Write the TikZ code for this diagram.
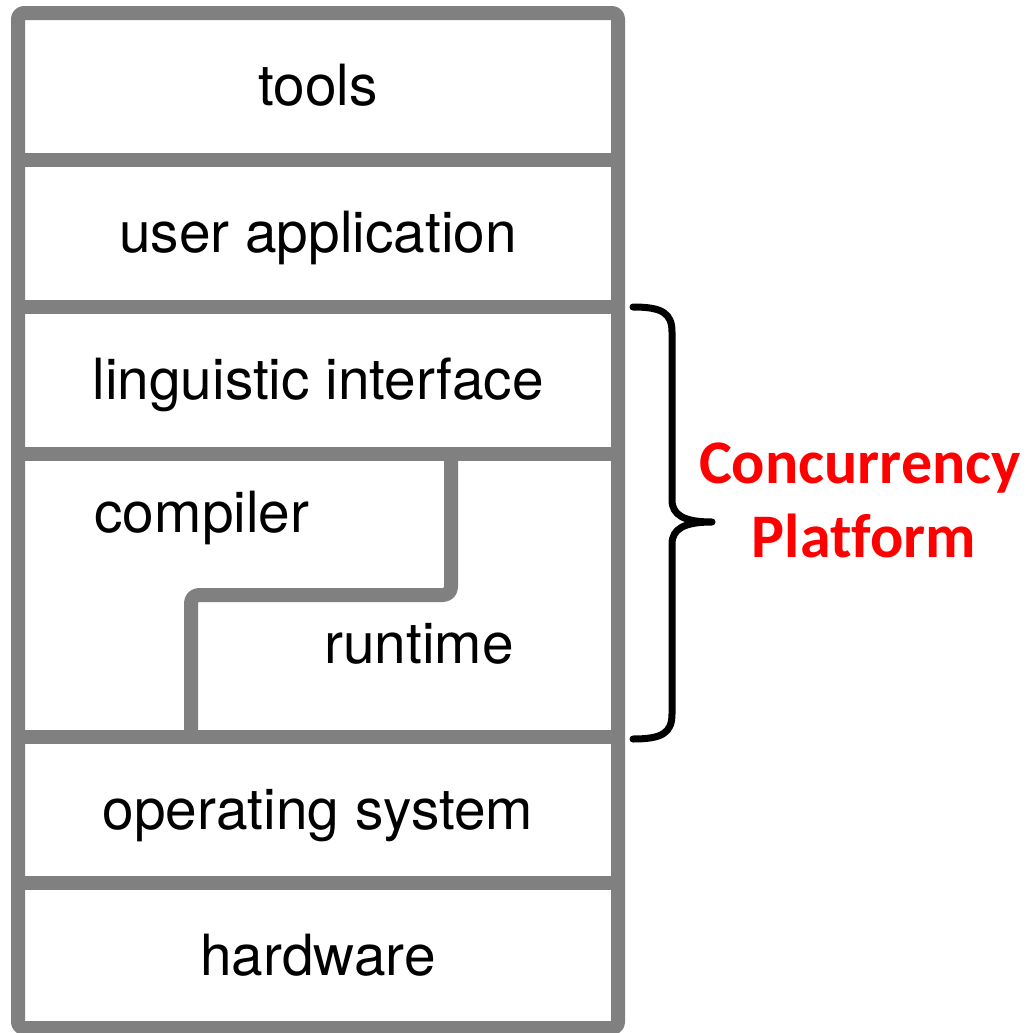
\documentclass[tikz,border=0pt]{standalone}
\usepackage{fontspec}
\setmainfont{TeX Gyre Heros}
\newfontfamily\platfont[RawFeature=-liga]{Carlito}
\definecolor{layergray}{HTML}{808080}
\definecolor{platred}{HTML}{FF0000}
\usetikzlibrary{positioning}

\begin{document}
\begin{tikzpicture}[x=0.5pt, y=-0.5pt, line join=round, line cap=round,
    layer/.style={draw=layergray, line width=7pt},
    lbl/.style={anchor=base, inner sep=0pt, font=\fontsize{28.4}{34}\selectfont},
    plat/.style={anchor=base, inner sep=0pt, text=platred, font=\platfont\bfseries\fontsize{31}{37}\selectfont}]
  \useasboundingbox (0,0) rectangle (1028,1033);
  % the stack
  \draw[layer, rounded corners=3pt] (18,13) rectangle (618,1028);
  \foreach \y in {160,307,454,737,883}
    \draw[layer, line cap=butt] (18,\y) -- (618,\y);
  \draw[layer, rounded corners=4pt, line cap=butt] (451,454) -- (451,595) -- (191,595) -- (191,737);
  % layer names
  \node[lbl] (tools) at (318,105) {tools};
  \node[lbl] (app) at (318,252) {user application};
  \node[lbl] (ling) at (318,399) {linguistic interface};
  \node[lbl] (comp) at (202,532) {compiler};
  \node[lbl] (rt) at (419,663) {runtime};
  \node[lbl] (os) at (318,829) {operating system};
  \node[lbl] (hw) at (318,975) {hardware};
  % brace over the concurrency platform
  \coordinate (btop) at (633,307);
  \coordinate (btip) at (712,522);
  \coordinate (bbot) at (633,739);
  \draw[line width=3.5pt] (btop) .. controls (662,307) and (672,313) .. (672,332)
    -- (672,500) .. controls (672,515) and (684,522) .. (btip)
    .. controls (684,522) and (672,529) .. (672,544)
    -- (672,714) .. controls (672,733) and (662,739) .. (bbot);
  \node[plat] (conc) at (860,483) {Concurrency};
  \node[plat] (platf) at (864,557) {Platform};
\end{tikzpicture}
\end{document}
